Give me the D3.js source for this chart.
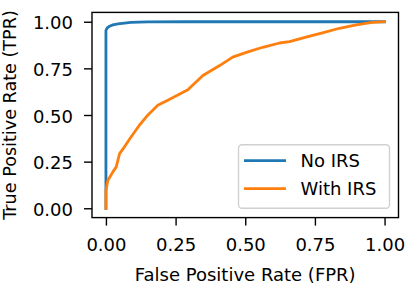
<!DOCTYPE html>
<html>
<head>
<meta charset="utf-8">
<script src="https://cdn.jsdelivr.net/npm/d3@7"></script>
<style>
  body { margin: 0; background: white; }
  text { font-family: "DejaVu Sans", sans-serif; fill: black; }
</style>
</head>
<body>
<script>
'use strict';

// ROC curve points
const noIrsFpr = [0, 0, 0, 0.004, 0.013, 0.025, 0.043, 0.09, 0.15, 0.3, 1.0];
const noIrsTpr = [0, 0.5, 0.953, 0.966, 0.976, 0.983, 0.988, 0.996, 0.999, 1.0, 1.0];

const withIrsFpr = [0, 0, 0.007, 0.025, 0.037, 0.049, 0.066, 0.09, 0.12, 0.15, 0.186, 0.222,
  0.294, 0.348, 0.408, 0.455, 0.504, 0.563, 0.623, 0.659, 0.718, 0.777, 0.838, 0.898, 0.956, 1.0];
const withIrsTpr = [0, 0.097, 0.15, 0.195, 0.222, 0.293, 0.328, 0.382, 0.445, 0.499, 0.552, 0.579,
  0.635, 0.712, 0.765, 0.81, 0.836, 0.863, 0.886, 0.893, 0.917, 0.94, 0.965, 0.983, 0.997, 1.0];

const xTicks = [0, 0.25, 0.5, 0.75, 1.0];
const yTicks = [0, 0.25, 0.5, 0.75, 1.0];

const seriesNames = ["No IRS", "With IRS"];
const seriesColors = ["#1f77b4", "#ff7f0e"];

(function() {

  let svgContainer = "";
  let xScale, yScale;

  // plot area in pixels
  const left = 92, right = 398.5, top = 12.4, bottom = 217.6;

  window.onload = function() {
    svgContainer = d3.select('body')
      .append('svg')
      .attr('width', 406)
      .attr('height', 285);

    xScale = d3.scaleLinear().domain([-0.05, 1.05]).range([left, right]);
    yScale = d3.scaleLinear().domain([-0.05, 1.05]).range([bottom, top]);

    plotData();
    makeAxes();
    makeLegend();
    makeLabels();
  }

  // draw both curves
  function plotData() {
    let line = d3.line()
      .x((d) => xScale(d[0]))
      .y((d) => yScale(d[1]));

    let series = [
      d3.zip(noIrsFpr, noIrsTpr),
      d3.zip(withIrsFpr, withIrsTpr)
    ];

    series.forEach(function(pts, i) {
      svgContainer.append('path')
        .datum(pts)
        .attr('d', line)
        .attr('fill', 'none')
        .attr('stroke', seriesColors[i])
        .attr('stroke-width', 2.8)
        .attr('stroke-linejoin', 'round')
        .attr('stroke-linecap', 'square');
    });
  }

  // frame, ticks and tick labels
  function makeAxes() {
    let fmt = d3.format('.2f');

    let xAxis = d3.axisBottom(xScale)
      .tickValues(xTicks)
      .tickFormat(fmt)
      .tickSize(8)
      .tickSizeOuter(0)
      .tickPadding(13);

    let yAxis = d3.axisLeft(yScale)
      .tickValues(yTicks)
      .tickFormat(fmt)
      .tickSize(8)
      .tickSizeOuter(0)
      .tickPadding(11);

    let gx = svgContainer.append('g')
      .attr('transform', 'translate(0,' + bottom + ')')
      .call(xAxis);
    let gy = svgContainer.append('g')
      .attr('transform', 'translate(' + left + ',0)')
      .call(yAxis);

    [gx, gy].forEach(function(g) {
      g.select('.domain').remove();
      g.selectAll('line').attr('stroke', 'black').attr('stroke-width', 1.4);
      g.selectAll('text')
        .style('font-size', '18px')
        .style('font-family', '"DejaVu Sans", sans-serif');
    });
    gy.selectAll('text').attr('dy', '0.4em');

    svgContainer.append('rect')
      .attr('x', left)
      .attr('y', top)
      .attr('width', right - left)
      .attr('height', bottom - top)
      .attr('fill', 'none')
      .attr('stroke', 'black')
      .attr('stroke-width', 1.4);
  }

  function makeLegend() {
    svgContainer.append('rect')
      .attr('x', 238.5)
      .attr('y', 144.7)
      .attr('width', 151)
      .attr('height', 63.5)
      .attr('rx', 3.5)
      .attr('fill', 'white')
      .attr('fill-opacity', 0.8)
      .attr('stroke', '#d0d0d0')
      .attr('stroke-width', 1.4);

    seriesNames.forEach(function(name, i) {
      let y = 160.7 + i * 28;
      svgContainer.append('line')
        .attr('x1', 244)
        .attr('x2', 286)
        .attr('y1', y)
        .attr('y2', y)
        .attr('stroke', seriesColors[i])
        .attr('stroke-width', 2.8);
      svgContainer.append('text')
        .attr('x', 300.5)
        .attr('y', y + 6.2)
        .style('font-size', '18px')
        .text(name);
    });
  }

  // axis titles
  function makeLabels() {
    svgContainer.append('text')
      .attr('x', (left + right) / 2)
      .attr('y', 280.7)
      .attr('text-anchor', 'middle')
      .style('font-size', '18px')
      .text('False Positive Rate (FPR)');

    svgContainer.append('text')
      .attr('transform', 'translate(16,' + ((top + bottom) / 2) + ')rotate(-90)')
      .attr('text-anchor', 'middle')
      .style('font-size', '17.6px')
      .text('True Positive Rate (TPR)');
  }
})();
</script>
</body>
</html>
